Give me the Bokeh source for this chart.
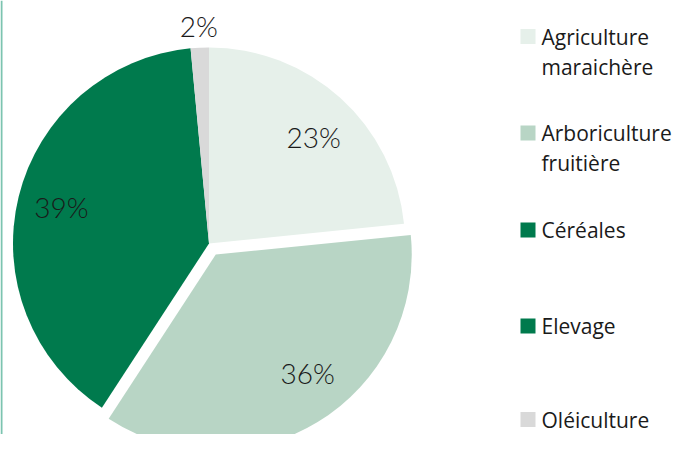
import math
from bokeh.plotting import figure
from bokeh.models import Range1d, ColumnDataSource, Span
from bokeh.core.properties import value
from bokeh.embed import file_html
from bokeh.resources import INLINE

# ---- data ----
categories = ["Agriculture maraichère", "Arboriculture fruitière", "Céréales", "Elevage", "Oléiculture"]
shares = [23.4, 35.8, 0.0, 39.3, 1.5]
pct_labels = ["23%", "36%", "", "39%", "2%"]
legend_lines = [["Agriculture", "maraichère"], ["Arboriculture", "fruitière"], ["Céréales"], ["Elevage"], ["Oléiculture"]]

# ---- style ----
colors = ["#E6F0EA", "#B8D5C5", "#007A4D", "#007A4D", "#D9D9D9"]
explode = [0, 13, 0, 0, 0]
label_r = [149, 150, 150, 152, 218]
label_frac = [0.53, 0.45, 0.5, 0.5, 0.5]

W, H = 677, 434
p = figure(width=W, height=H, output_backend="svg", toolbar_location=None,
           x_range=Range1d(0, W), y_range=Range1d(450 - H, 450),
           min_border=0, outline_line_color=None)
p.axis.visible = False
p.grid.visible = False
p.background_fill_color = "white"
p.border_fill_color = "white"

def Y(y):
    return 450 - y

# thin frame line on the left edge
p.add_layout(Span(location=1, dimension="height", line_color="#7CC4B0", line_width=2))

cx, cy, R = 208.5, Y(243), 196

total = sum(shares)
d = dict(x=[], y=[], start=[], end=[], color=[], lx=[], ly=[], lab=[], cat=[])
cum = 0.0
for s, off, lr, lf, col, lab, cat in zip(shares, explode, label_r, label_frac, colors, pct_labels, categories):
    f0 = cum / total
    f1 = (cum + s) / total
    cum += s
    if s <= 0:
        continue
    a_start = math.pi / 2 - 2 * math.pi * f1
    a_end = math.pi / 2 - 2 * math.pi * f0
    mid = (a_start + a_end) / 2
    la = a_end - lf * (a_end - a_start)
    x0 = cx + off * math.cos(mid)
    y0 = cy + off * math.sin(mid)
    d["x"].append(x0); d["y"].append(y0)
    d["start"].append(a_start); d["end"].append(a_end)
    d["color"].append(col); d["lab"].append(lab); d["cat"].append(cat)
    d["lx"].append(x0 + lr * math.cos(la)); d["ly"].append(y0 + lr * math.sin(la))

src = ColumnDataSource(d)
p.wedge(x="x", y="y", radius=R, start_angle="start", end_angle="end",
        fill_color="color", line_color=None, source=src)
p.text(x="lx", y="ly", text="lab", source=src, text_align="center", text_baseline="middle",
       text_font=value("Lato Light"), text_font_size="28px", text_color="#1a1a1a")

# ---- legend ----
row_centers = [36, 132.5, 229.5, 325.5, 419]
sq_x = 527.5
tx, ty, tt = [], [], []
for lines, rc in zip(legend_lines, row_centers):
    for i, ln in enumerate(lines):
        tx.append(541)
        ty.append(Y(rc + i * 30))
        tt.append(ln)
p.rect(x=[sq_x] * len(categories), y=[Y(r) for r in row_centers], width=15, height=15,
       fill_color=colors, line_color=None)
p.text(x=tx, y=ty, text=tt, text_align="left", text_baseline="middle",
       text_font=value("Open Sans"), text_font_size="21px", text_color="#1a1a1a")

open("out.html", "w").write(file_html(p, INLINE))
